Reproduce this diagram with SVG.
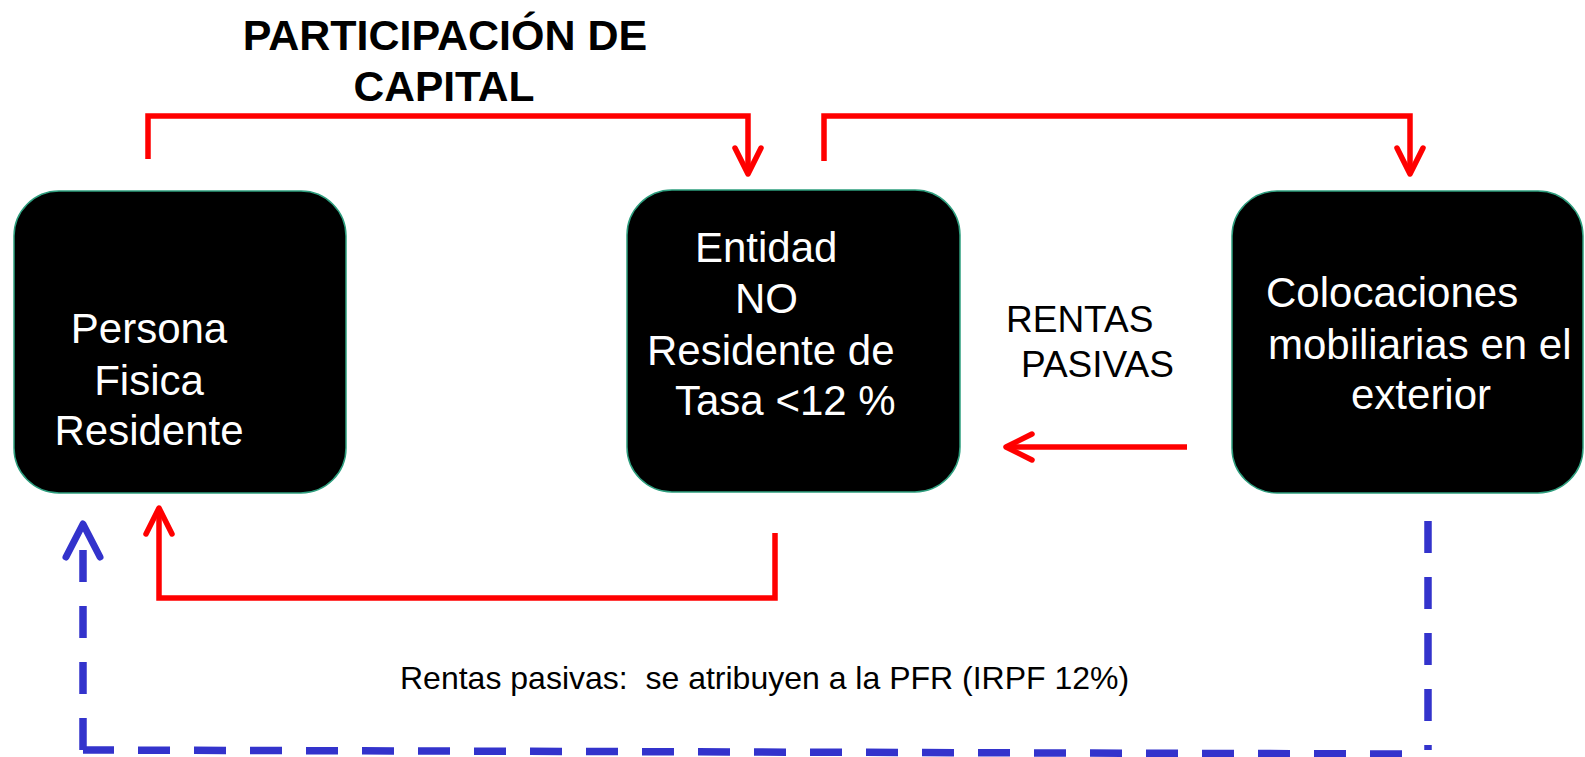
<svg xmlns="http://www.w3.org/2000/svg" width="1585" height="757" viewBox="0 0 1585 757">
<style>
.box{fill:#000;stroke:#2e9e7e;stroke-width:1.5}
.bt{font-family:"Liberation Sans",Arial,sans-serif;font-size:42px;fill:#fff}
.lbl{font-family:"Liberation Sans",Arial,sans-serif;fill:#000}
.red{fill:none;stroke:#ff0000;stroke-width:5.5}
.redh{fill:none;stroke:#ff0000;stroke-width:5.5;stroke-linecap:round;stroke-linejoin:round}
.blue{fill:none;stroke:#3333cc;stroke-width:7.5;stroke-dasharray:32 24}
.blueh{fill:none;stroke:#3333cc;stroke-width:7;stroke-linecap:round;stroke-linejoin:round}
</style>
<rect width="1585" height="757" fill="#fff"/>
<g id="title">
<text class="lbl" x="445" y="50" text-anchor="middle" font-size="43" font-weight="bold">PARTICIPACIÓN DE</text>
<text class="lbl" x="444" y="101" text-anchor="middle" font-size="42.5" font-weight="bold">CAPITAL</text>
</g>
<g id="connectors">
<polyline class="red" points="148,159 148,116 748,116 748,172"/>
<polyline class="redh" points="735,148 748,174 761,148"/>
<polyline class="red" points="824,161 824,116 1410,116 1410,172"/>
<polyline class="redh" points="1397,148 1410,174 1423,148"/>
<line class="red" x1="1187" y1="447" x2="1008" y2="447"/>
<polyline class="redh" points="1032,434 1006,447 1032,460"/>
<polyline class="red" points="775,533 775,598 159,598 159,510"/>
<polyline class="redh" points="146,534 159,508 172,534"/>
<path class="blue" d="M1428 521 V750"/>
<path class="blue" d="M1402 754 L83 750"/>
<path class="blue" d="M83 750 V550"/>
<polyline class="blueh" points="66,557 83,524 100,557"/>
</g>
<g id="node-persona">
<rect class="box" x="14" y="191" width="332" height="302" rx="45" ry="45"/>
<text class="bt" x="149" y="343" text-anchor="middle">Persona</text>
<text class="bt" x="149" y="395" text-anchor="middle">Fisica</text>
<text class="bt" x="149" y="445" text-anchor="middle">Residente</text>
</g>
<g id="node-entidad">
<rect class="box" x="627" y="190" width="333" height="302" rx="45" ry="45"/>
<text class="bt" x="695" y="262">Entidad</text>
<text class="bt" x="735" y="313">NO</text>
<text class="bt" x="647" y="365">Residente de</text>
<text class="bt" x="675" y="415">Tasa &lt;12 %</text>
</g>
<g id="node-colocaciones">
<rect class="box" x="1232" y="191" width="351" height="302" rx="45" ry="45"/>
<text class="bt" x="1266" y="307">Colocaciones</text>
<text class="bt" x="1268" y="359">mobiliarias en el</text>
<text class="bt" x="1351" y="409">exterior</text>
</g>
<g id="label-rentas">
<text class="lbl" x="1006" y="332" font-size="37">RENTAS</text>
<text class="lbl" x="1021" y="377" font-size="37">PASIVAS</text>
</g>
<g id="label-bottom">
<text class="lbl" x="400" y="689" font-size="32" xml:space="preserve">Rentas pasivas:  se atribuyen a la PFR (IRPF 12%)</text>
</g>
</svg>
